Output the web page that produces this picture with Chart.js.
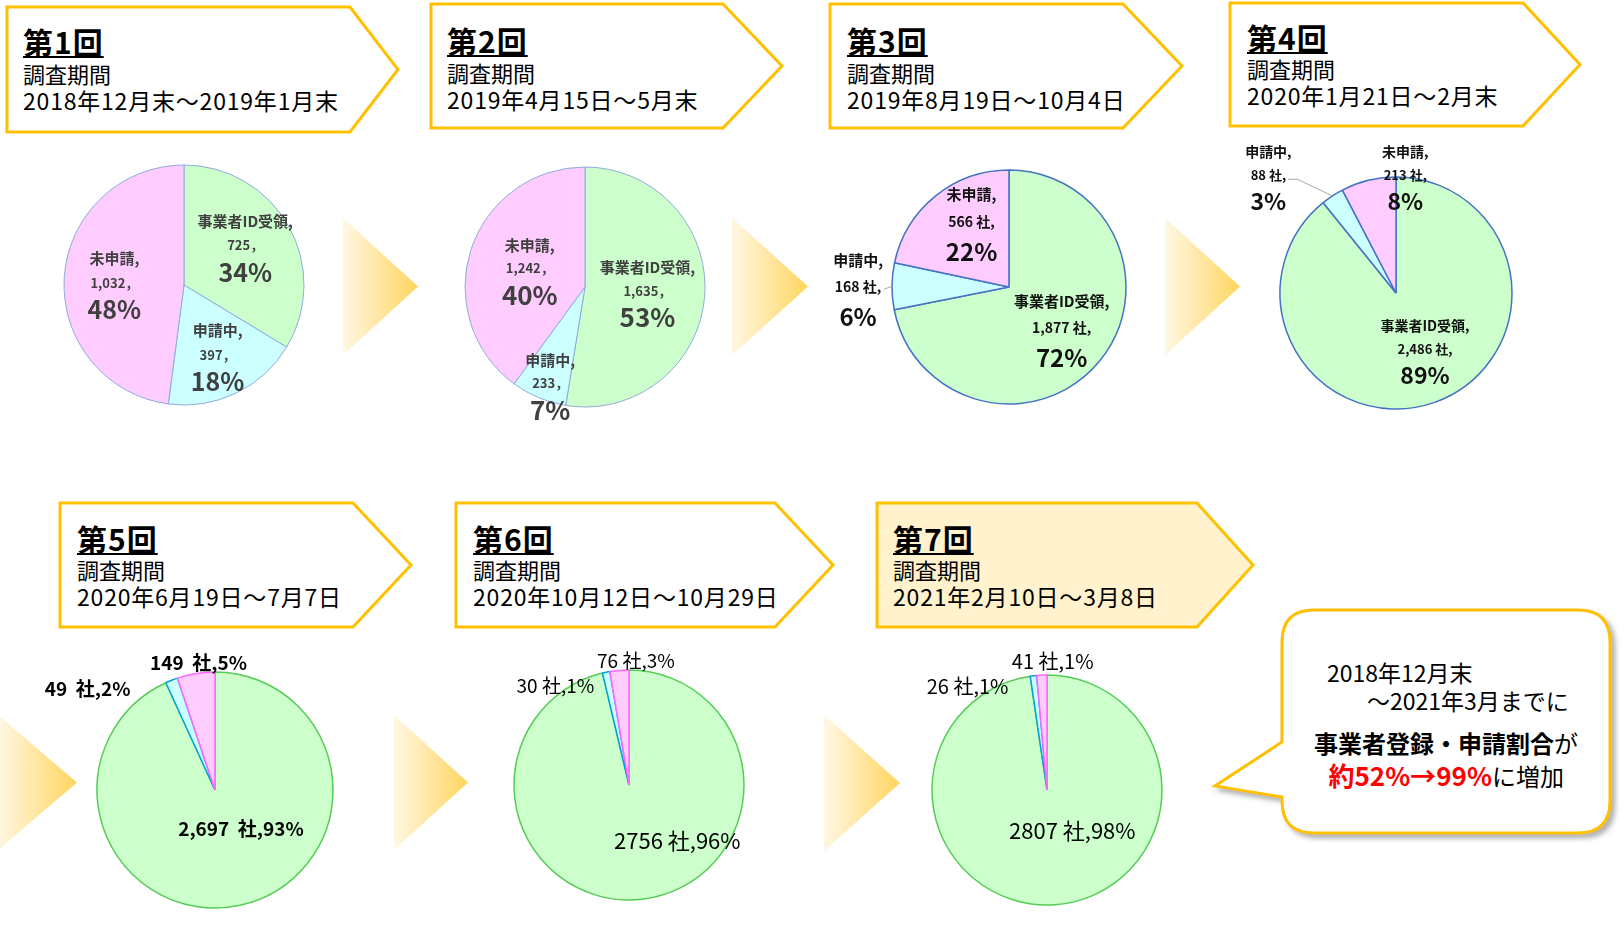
<!DOCTYPE html>
<html lang="ja">
<head>
<meta charset="utf-8">
<title>事業者登録・申請状況の推移</title>
<script src="https://cdn.jsdelivr.net/npm/chart.js@4.4.1/dist/chart.umd.min.js"></script>
<style>
  html, body { margin:0; padding:0; background:#fff; }
  body { width:1624px; height:927px; position:relative; overflow:hidden;
         font-family:"Noto Sans CJK JP", "Noto Sans", sans-serif; color:#000; }
  #deco { position:absolute; left:0; top:0; z-index:0; }
  canvas { position:absolute; z-index:1; }
  .txt { position:absolute; z-index:2; white-space:nowrap; }
  .ttl { font-weight:700; font-size:30px; line-height:30px; letter-spacing:1px; text-decoration:underline;
         text-decoration-thickness:2px; text-underline-offset:2px; }
  .sub { font-size:22px; line-height:26px; }
  .date { font-size:23px; line-height:26px; letter-spacing:0.8px; }
  .bub { font-size:23px; line-height:28px; }
  .big { font-size:24px; line-height:30px; }
</style>
</head>
<body>
<svg id="deco" width="1624" height="927"></svg>
<script>
// ---- data ----
const rounds = ['第1回', '第2回', '第3回', '第4回', '第5回', '第6回', '第7回'];
const periods = [
  '2018年12月末～2019年1月末',
  '2019年4月15日～5月末',
  '2019年8月19日～10月4日',
  '2020年1月21日～2月末',
  '2020年6月19日～7月7日',
  '2020年10月12日～10月29日',
  '2021年2月10日～3月8日'
];
const categories = ['事業者ID受領', '申請中', '未申請'];
const received   = [725, 1635, 1877, 2486, 2697, 2756, 2807];
const applying   = [397, 233, 168, 88, 49, 30, 26];
const notApplied = [1032, 1242, 566, 213, 149, 76, 41];

// ---- layout ----
const pies = [
  {cx:184,  cy:285, r:120}, {cx:585,  cy:287, r:120}, {cx:1009, cy:287, r:117},
  {cx:1396, cy:293, r:116}, {cx:215,  cy:790, r:118}, {cx:629,  cy:785, r:115},
  {cx:1047, cy:790, r:115}
];
// box: left, top, right, tip, bottom ; text x and line centres
const headers = [
  {l:7,    t:7,   r:350,  tip:398,  b:132, tx:23,   ty:[41,73,100]},
  {l:431,  t:4,   r:723,  tip:782,  b:128, tx:447,  ty:[40,72,99]},
  {l:830,  t:4,   r:1123, tip:1182, b:128, tx:847,  ty:[40,72,99]},
  {l:1230, t:3,   r:1523, tip:1580, b:126, tx:1247, ty:[37,68,95]},
  {l:60,   t:503, r:353,  tip:411,  b:627, tx:77,   ty:[538,569,596]},
  {l:456,  t:503, r:775,  tip:833,  b:627, tx:473,  ty:[538,569,596]},
  {l:877,  t:503, r:1197, tip:1253, b:627, tx:893,  ty:[538,569,596], fill:'#FFF2CC'}
];
const arrows = [
  [343,218,418,355], [732,218,808,355], [1165,218,1240,355],
  [-2,715,77,850], [394,715,468,850], [824,715,900,851]
];

const green = '#CCFFCC', cyan = '#CCFFFF', pink = '#FFCCFF';
const sliceStyles = [
  {border:['#8FAADC','#8FAADC','#8FAADC'], w:1},
  {border:['#8FAADC','#8FAADC','#8FAADC'], w:1},
  {border:['#4472C4','#4472C4','#4472C4'], w:1.5},
  {border:['#4472C4','#4472C4','#4472C4'], w:1.5},
  {border:['#55CC55','#00A0E0','#FF66FF'], w:1.5},
  {border:['#55CC55','#00A0E0','#FF66FF'], w:1.5},
  {border:['#55CC55','#00A0E0','#FF66FF'], w:1.5}
];
// label anchors in units of radius (green, cyan, pink)
const labelCfg = [
  {kind:'stack', sfx:'，', color:'#404040', size:[15,13,25], gap:[24,27],
   pos:[[0.51,-0.33],[0.28,0.58],[-0.58,-0.02]]},
  {kind:'stack', sfx:'，', color:'#404040', size:[15,13,26], gap:[23,27],
   pos:[[0.52,0.03],[-0.29,0.80],[-0.46,-0.16]]},
  {kind:'stack', sfx:' 社,', color:'#111', size:[15,14,24], gap:[27,30],
   pos:[[0.45,0.35],[-1.29,0.0],[-0.32,-0.56]], leader:{1:[[-1.07,0.02]]}},
  {kind:'stack', sfx:' 社,', color:'#111', size:[14,13,23], gap:[23,27],
   pos:[[0.25,0.48],[-1.10,-1.02],[0.08,-1.02]], leader:{1:[[-0.93,-0.98],[-0.85,-0.98]]}},
  {kind:'line', sep:'  社,', comma:true, bold:true, size:[19,19,19],
   pos:[[0.22,0.33],[-1.08,-0.86],[-0.14,-1.08]]},
  {kind:'line', sep:' 社,', comma:false, bold:false, size:[22,19,19],
   pos:[[0.42,0.48],[-0.64,-0.86],[0.06,-1.08]]},
  {kind:'line', sep:' 社,', comma:false, bold:false, size:[22,20,20],
   pos:[[0.22,0.35],[-0.69,-0.90],[0.05,-1.12]]}
];

const FONT = '"Noto Sans CJK JP", sans-serif';
const fmt = (v, comma) => comma ? v.toLocaleString('en-US') : String(v);

// ---- decorations (svg) ----
const NS = 'http://www.w3.org/2000/svg';
const svg = document.getElementById('deco');
function mk(tag, attrs, parent) {
  const e = document.createElementNS(NS, tag);
  for (const k in attrs) e.setAttribute(k, attrs[k]);
  (parent || svg).appendChild(e);
  return e;
}
const defs = mk('defs', {});
const grad = mk('linearGradient', {id:'ag', x1:0, y1:0, x2:1, y2:0}, defs);
mk('stop', {offset:'0', 'stop-color':'#FFF7E3'}, grad);
mk('stop', {offset:'1', 'stop-color':'#FFD55E'}, grad);
const filt = mk('filter', {id:'sh', x:'-10%', y:'-10%', width:'130%', height:'130%'}, defs);
mk('feDropShadow', {dx:4, dy:4, stdDeviation:2.5, 'flood-color':'#7F7F7F', 'flood-opacity':0.6}, filt);

arrows.forEach(a => {
  const [l, t, tip, b] = a;
  mk('polygon', {points:`${l},${t} ${tip},${(t+b)/2} ${l},${b}`, fill:'url(#ag)'});
});

headers.forEach((h, i) => {
  const m = (h.t + h.b) / 2;
  mk('polygon', {points:`${h.l},${h.t} ${h.r},${h.t} ${h.tip},${m} ${h.r},${h.b} ${h.l},${h.b}`,
    fill:h.fill || '#fff', stroke:'#FFC000', 'stroke-width':3});
  const lines = [[rounds[i], 'ttl', 30], ['調査期間', 'sub', 26], [periods[i], 'date', 26]];
  lines.forEach((ln, k) => {
    const d = document.createElement('div');
    d.className = 'txt ' + ln[1];
    d.textContent = ln[0];
    d.style.left = h.tx + 'px';
    d.style.top = (h.ty[k] - ln[2] / 2) + 'px';
    document.body.appendChild(d);
  });
});

// speech bubble
mk('path', {
  d:'M1314,610 H1578 Q1610,610 1610,642 V801 Q1610,833 1578,833 H1314 Q1282,833 1282,801 V797 L1215,786 L1282,742 V642 Q1282,610 1314,610 Z',
  fill:'#fff', stroke:'#FFC000', 'stroke-width':3, filter:'url(#sh)'
});
[
  {html:'2018年12月末', cls:'bub', left:1327, cy:672},
  {html:'～2021年3月までに', cls:'bub', left:1367, cy:700},
  {html:'<b>事業者登録・申請割合</b>が', cls:'big', center:1446, cy:743},
  {html:'<b style="color:#FF0000;font-size:26px">約52%→99%</b>に増加', cls:'big', center:1446, cy:775}
].forEach(t => {
  const d = document.createElement('div');
  d.className = 'txt ' + t.cls;
  d.innerHTML = t.html;
  document.body.appendChild(d);
  const lh = t.cls === 'big' ? 30 : 28;
  d.style.top = (t.cy - lh / 2) + 'px';
  if (t.center) d.style.left = (t.center - d.offsetWidth / 2) + 'px';
  else d.style.left = t.left + 'px';
});

// ---- slice labels plugin ----
const sliceLabels = {
  id: 'sliceLabels',
  afterDatasetsDraw(chart, args, o) {
    const cfg = o.cfg;
    if (!cfg) return;
    const ctx = chart.ctx;
    const vals = chart.data.datasets[0].data;
    const total = vals.reduce((a, b) => a + b, 0);
    const meta = chart.getDatasetMeta(0);
    ctx.save();
    ctx.textAlign = 'center';
    ctx.textBaseline = 'middle';
    meta.data.forEach((arc, i) => {
      const p = arc.getProps(['x', 'y', 'outerRadius', 'startAngle', 'endAngle'], true);
      const R = p.outerRadius;
      const ax = p.x + cfg.pos[i][0] * R, ay = p.y + cfg.pos[i][1] * R;
      const pct = Math.round(vals[i] / total * 100) + '%';
      if (cfg.leader && cfg.leader[i]) {
        const mid = (p.startAngle + p.endAngle) / 2;
        ctx.beginPath();
        ctx.strokeStyle = '#A6A6A6';
        ctx.lineWidth = 1;
        cfg.leader[i].forEach((q, k) => {
          const qx = p.x + q[0] * R, qy = p.y + q[1] * R;
          k ? ctx.lineTo(qx, qy) : ctx.moveTo(qx, qy);
        });
        ctx.lineTo(p.x + Math.cos(mid) * R, p.y + Math.sin(mid) * R);
        ctx.stroke();
      }
      if (cfg.kind === 'stack') {
        ctx.fillStyle = cfg.color;
        ctx.font = `bold ${cfg.size[0]}px ${FONT}`;
        ctx.fillText(chart.data.labels[i] + ',', ax, ay - cfg.gap[0]);
        ctx.font = `bold ${cfg.size[1]}px ${FONT}`;
        ctx.fillText(fmt(vals[i], true) + cfg.sfx, ax, ay);
        ctx.font = `bold ${cfg.size[2]}px ${FONT}`;
        ctx.fillText(pct, ax, ay + cfg.gap[1]);
      } else {
        ctx.fillStyle = '#000';
        ctx.font = `${cfg.bold ? 'bold ' : ''}${cfg.size[i]}px ${FONT}`;
        ctx.fillText(fmt(vals[i], cfg.comma) + cfg.sep + pct, ax, ay);
      }
    });
    ctx.restore();
  }
};

// ---- charts ----
const W = 380, H = 320;
pies.forEach((pc, i) => {
  const cv = document.createElement('canvas');
  cv.width = W; cv.height = H;
  cv.style.left = (pc.cx - W / 2) + 'px';
  cv.style.top = (pc.cy - H / 2) + 'px';
  document.body.appendChild(cv);
  new Chart(cv, {
    type: 'pie',
    data: {
      labels: categories,
      datasets: [{
        data: [received[i], applying[i], notApplied[i]],
        backgroundColor: [green, cyan, pink],
        borderColor: sliceStyles[i].border,
        borderWidth: sliceStyles[i].w
      }]
    },
    options: {
      responsive: false,
      animation: false,
      radius: pc.r,
      layout: {padding: 0},
      plugins: {
        legend: {display: false},
        tooltip: {enabled: false},
        sliceLabels: {cfg: labelCfg[i]}
      }
    },
    plugins: [sliceLabels]
  });
});
</script>
</body>
</html>
